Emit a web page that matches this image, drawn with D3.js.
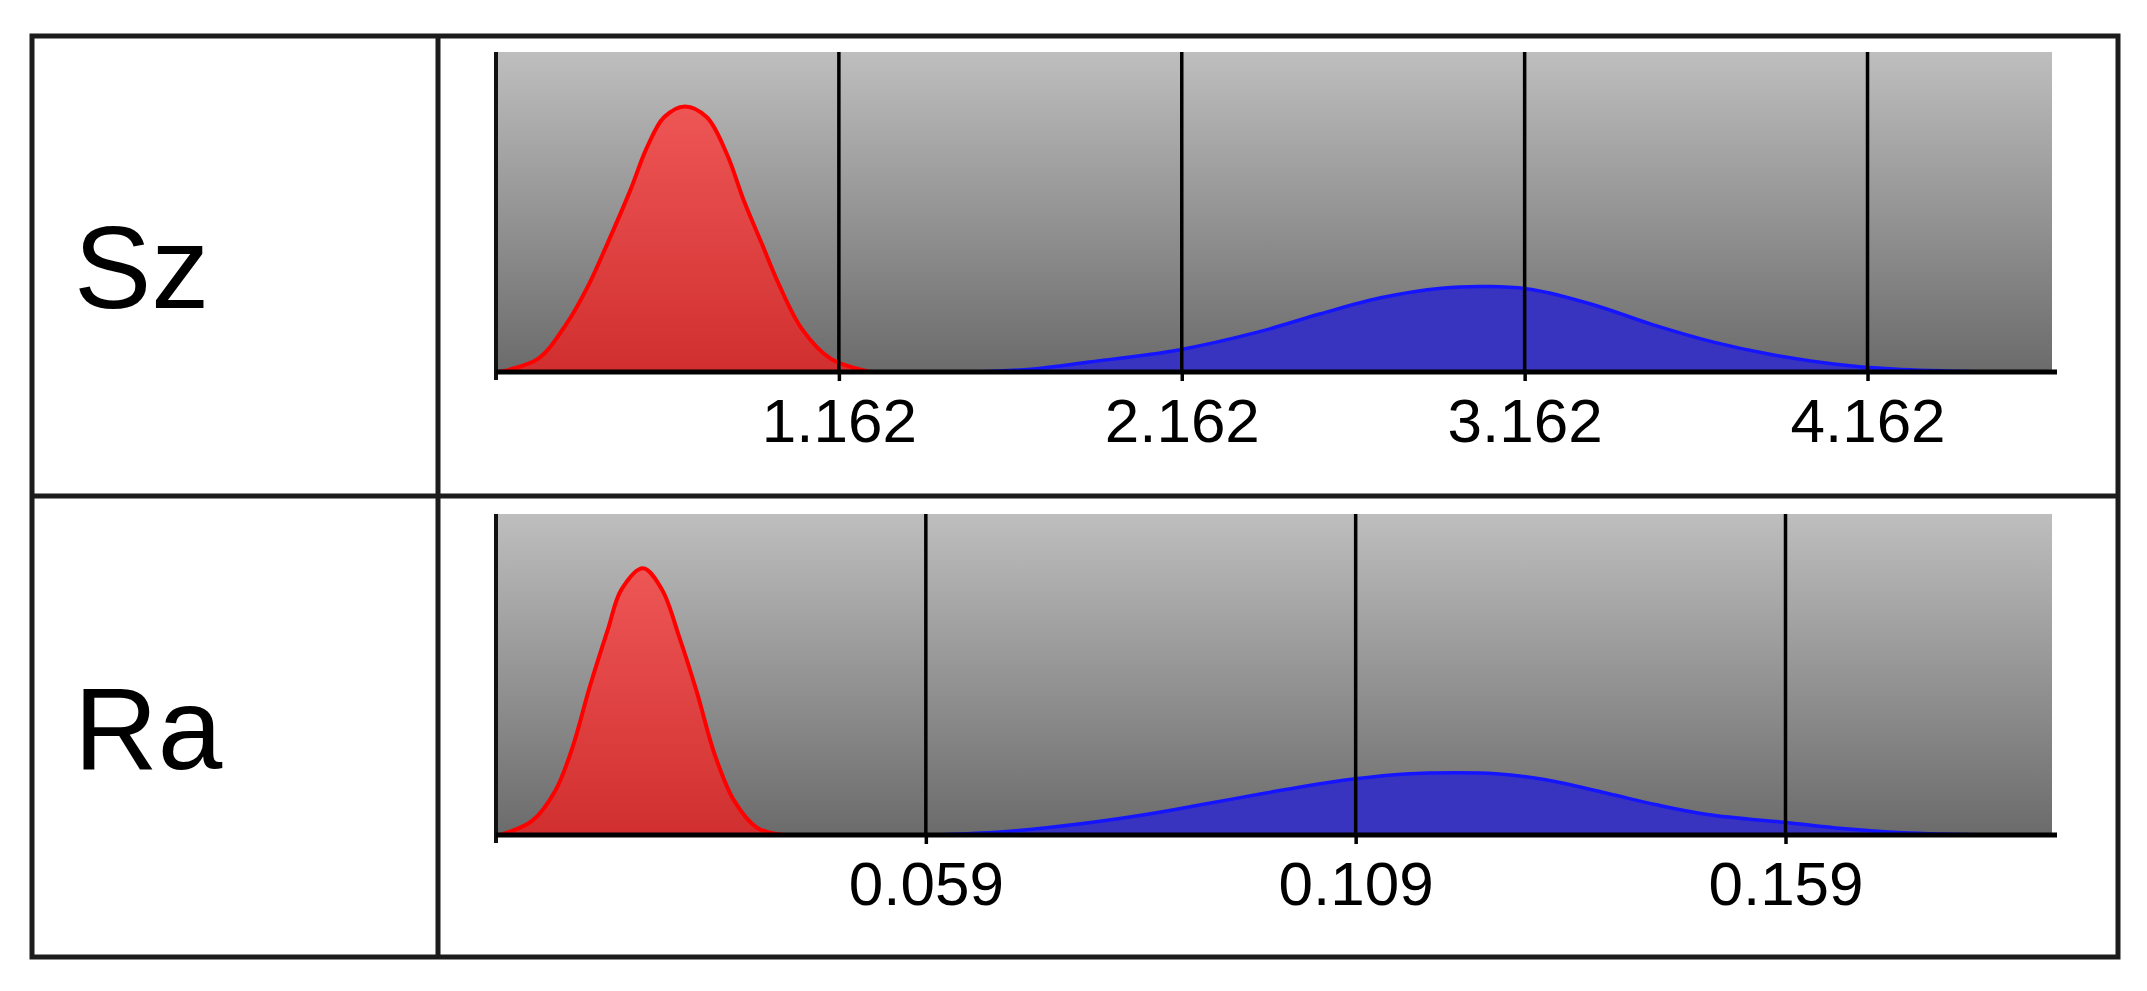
<!DOCTYPE html>
<html>
<head>
<meta charset="utf-8">
<script src="https://cdn.jsdelivr.net/npm/d3@7"></script>
<style>
  body{margin:0;background:#fff;}
  svg text{font-family:"Liberation Sans",Arial,sans-serif;}
</style>
</head>
<body>
<svg id="chart" width="2147" height="991"></svg>
<script>
// row labels
const rowNames = ["Sz", "Ra"]

// axis domains and tick values
const szDomain = [0.162, 4.70]
const raDomain = [0.009, 0.190]
const szTicks = [1.162, 2.162, 3.162, 4.162]
const raTicks = [0.059, 0.109, 0.159]

// curves: [value, relative height] (height 1 = top of plot)
const szRed = [[0.171,0],[0.284,0.041],[0.366,0.148],[0.433,0.274],[0.486,0.399],[0.553,0.566],[0.602,0.701],
  [0.652,0.796],[0.713,0.830],[0.777,0.796],[0.835,0.682],[0.885,0.535],[0.938,0.399],[0.987,0.274],
  [1.054,0.135],[1.139,0.041],[1.255,0]]
const szBlue = [[1.556,0],[1.722,0.009],[1.891,0.031],[2.153,0.069],[2.389,0.126],[2.567,0.182],[2.742,0.232],
  [2.920,0.262],[3.060,0.267],[3.182,0.258],[3.360,0.211],[3.535,0.148],[3.710,0.094],[3.888,0.053],
  [4.063,0.025],[4.238,0.009],[4.503,0]]
const raRed = [[0.0094,0],[0.0132,0.044],[0.0159,0.138],[0.0179,0.273],[0.0199,0.461],[0.0220,0.639],[0.0236,0.765],
  [0.0261,0.831],[0.0283,0.765],[0.0303,0.618],[0.0324,0.442],[0.0344,0.254],[0.0367,0.107],[0.0394,0.022],[0.0425,0]]
const raBlue = [[0.0595,0],[0.0680,0.010],[0.0784,0.040],[0.0855,0.068],[0.0918,0.098],[0.0984,0.130],[0.1031,0.152],
  [0.1090,0.175],[0.1148,0.190],[0.1206,0.194],[0.1253,0.191],[0.1311,0.172],[0.1382,0.130],[0.1440,0.094],
  [0.1499,0.064],[0.1593,0.038],[0.1656,0.020],[0.1726,0.007],[0.1832,0]]

const panels = [
  {name: rowNames[0], domain: szDomain, ticks: szTicks, red: szRed, blue: szBlue, top: 52, base: 372, rowTop: 36, rowBot: 496},
  {name: rowNames[1], domain: raDomain, ticks: raTicks, red: raRed, blue: raBlue, top: 514, base: 835, rowTop: 496, rowBot: 957}
]

const svg = d3.select('#chart')
const defs = svg.append('defs')
const plotLeft = 496, plotRight = 2052
const fmt = d3.format('.3f')

panels.forEach((p, i) => {
  let bg = defs.append('linearGradient').attr('id', 'bg' + i).attr('gradientUnits', 'userSpaceOnUse')
    .attr('x1', 0).attr('x2', 0).attr('y1', p.top).attr('y2', p.base)
  bg.append('stop').attr('offset', 0).attr('stop-color', '#bebebe')
  bg.append('stop').attr('offset', 1).attr('stop-color', '#6b6b6b')
  let rg = defs.append('linearGradient').attr('id', 'red' + i).attr('gradientUnits', 'userSpaceOnUse')
    .attr('x1', 0).attr('x2', 0).attr('y1', p.top).attr('y2', p.base)
  rg.append('stop').attr('offset', 0).attr('stop-color', '#f45e5e')
  rg.append('stop').attr('offset', 1).attr('stop-color', '#d12f2f')

  let x = d3.scaleLinear().domain(p.domain).range([plotLeft, plotRight])
  let y = d3.scaleLinear().domain([0, 1]).range([p.base, p.top])
  let g = svg.append('g').attr('class', 'panel')

  g.append('rect').attr('x', plotLeft).attr('y', p.top)
    .attr('width', plotRight - plotLeft).attr('height', p.base - p.top)
    .attr('fill', 'url(#bg' + i + ')')

  let curve = d3.curveCatmullRom.alpha(0.5)
  let area = d3.area().x(d => x(d[0])).y0(p.base).y1(d => y(d[1])).curve(curve)
  let line = d3.line().x(d => x(d[0])).y(d => y(d[1])).curve(curve)

  g.append('path').datum(p.blue).attr('d', area).attr('fill', '#3934bf')
  g.append('path').datum(p.blue).attr('d', line).attr('fill', 'none').attr('stroke', '#1414ff').attr('stroke-width', 3.5)
  g.append('path').datum(p.red).attr('d', area).attr('fill', 'url(#red' + i + ')')
  g.append('path').datum(p.red).attr('d', line).attr('fill', 'none').attr('stroke', '#ff0000').attr('stroke-width', 4)

  // vertical grid lines
  g.selectAll('line.grid').data(p.ticks).join('line').attr('class', 'grid')
    .attr('x1', d => x(d)).attr('x2', d => x(d))
    .attr('y1', p.top).attr('y2', p.base)
    .attr('stroke', '#000').attr('stroke-width', 3.5)

  // left axis line
  g.append('line').attr('x1', plotLeft).attr('x2', plotLeft)
    .attr('y1', p.top).attr('y2', p.base + 8)
    .attr('stroke', '#111').attr('stroke-width', 4)

  let axis = d3.axisBottom(x).tickValues(p.ticks).tickFormat(fmt)
    .tickSizeInner(9).tickSizeOuter(0).tickPadding(17)
  let ax = g.append('g').attr('transform', 'translate(0,' + p.base + ')').call(axis)
  ax.select('.domain').attr('stroke', '#000').attr('stroke-width', 5).attr('d', 'M' + plotLeft + ',0H' + (plotRight + 5))
  ax.selectAll('.tick line').attr('stroke', '#000').attr('stroke-width', 3.5)
  ax.selectAll('.tick text').attr('fill', '#000').style('font-size', '62px')
    .style('font-family', '"Liberation Sans", Arial, sans-serif')

  // row label
  svg.append('text').attr('x', 74).attr('y', (p.rowTop + p.rowBot) / 2 + 42)
    .style('font-size', '116px').attr('fill', '#000').text(p.name)
})

// table borders
const border = svg.append('g').attr('fill', 'none').attr('stroke', '#1c1c1c').attr('stroke-width', 5)
border.append('rect').attr('x', 32).attr('y', 36).attr('width', 2118 - 32).attr('height', 957 - 36)
border.append('line').attr('x1', 32).attr('x2', 2118).attr('y1', 496).attr('y2', 496)
border.append('line').attr('x1', 438).attr('x2', 438).attr('y1', 36).attr('y2', 957)
</script>
</body>
</html>
